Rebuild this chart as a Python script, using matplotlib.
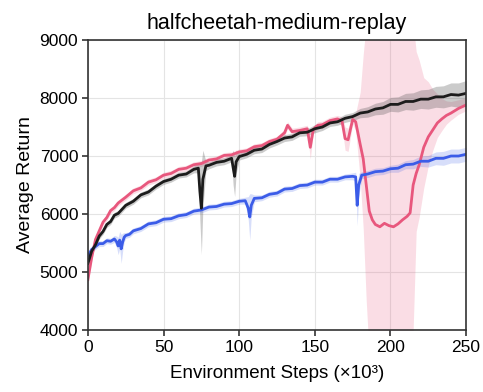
import matplotlib
matplotlib.use("Agg")
import matplotlib.pyplot as plt
import numpy as np

plt.rcParams['font.family'] = ['Liberation Sans', 'DejaVu Sans']

# ---- black curve (steps in 1e3, average return) ----
black_x = [0, 2.5, 5, 7.5, 10, 12.5, 15, 17.5, 20, 25, 30, 35, 40, 45, 50, 55, 60, 65, 70,
           73, 74, 75, 76, 78, 80, 85, 90, 95, 96, 97, 98, 100, 105, 110, 115, 120, 125,
           130, 135, 140, 145, 150, 155, 160, 165, 170, 175, 180, 185, 190, 195, 200, 205,
           210, 215, 220, 225, 230, 235, 240, 245, 250]
black_y = [5150, 5360, 5470, 5620, 5700, 5820, 5870, 5980, 6010, 6150, 6220, 6330, 6380,
           6480, 6560, 6600, 6670, 6690, 6770, 6790, 6400, 6100, 6600, 6830, 6840, 6890,
           6910, 6960, 6800, 6650, 6900, 6990, 7030, 7100, 7120, 7200, 7250, 7310, 7330,
           7400, 7410, 7470, 7500, 7570, 7590, 7650, 7680, 7740, 7760, 7810, 7830, 7890,
           7890, 7940, 7940, 7980, 7980, 8020, 8020, 8060, 8050, 8080]
black_hw = [60, 50, 50, 50, 50, 50, 50, 50, 50, 50, 50, 50, 50, 50, 50, 50, 50, 50, 60,
            80, 500, 800, 500, 80, 60, 60, 60, 60, 300, 350, 200, 60, 60, 60, 60, 60, 60,
            60, 60, 60, 60, 70, 60, 60, 60, 70, 70, 80, 90, 100, 110, 120, 130, 140, 150,
            160, 170, 180, 190, 200, 210, 220]

# ---- pink curve ----
pink_x = [0, 2.5, 5, 7.5, 10, 12.5, 15, 17.5, 20, 25, 30, 35, 40, 45, 50, 55, 60, 65, 70,
          75, 80, 85, 90, 95, 100, 105, 110, 115, 120, 125, 130, 132, 135, 140, 145, 147,
          149, 152, 155, 160, 165, 168, 170, 172, 175, 177, 180, 182, 184, 186, 188, 190,
          193, 196, 199, 202, 205, 208, 211, 213, 215, 217, 219, 222, 225, 228, 231, 234,
          237, 240, 245, 250]
pink_y = [4870, 5250, 5560, 5710, 5860, 5940, 6060, 6110, 6190, 6290, 6400, 6450, 6550,
          6590, 6670, 6700, 6770, 6790, 6850, 6870, 6930, 6950, 7010, 7020, 7070, 7090,
          7160, 7180, 7250, 7290, 7400, 7530, 7420, 7440, 7470, 7150, 7460, 7530, 7540,
          7610, 7640, 7600, 7300, 7280, 7630, 7590, 7200, 6950, 6500, 6050, 5900, 5820,
          5780, 5840, 5800, 5780, 5830, 5900, 5960, 6020, 6500, 6700, 6850, 7150, 7330,
          7450, 7570, 7640, 7700, 7740, 7820, 7880]
pink_up = [60, 50, 50, 50, 50, 50, 50, 50, 50, 50, 50, 50, 50, 50, 50, 50, 50, 50, 50,
           50, 50, 50, 50, 50, 50, 50, 50, 50, 50, 50, 60, 60, 60, 60, 60, 200, 60, 60, 60,
           60, 60, 80, 200, 200, 80, 150, 900, 1800, 2800, 3500, 3500, 3500, 3500, 3500,
           3500, 3500, 3500, 3500, 3500, 3500, 2800, 2100, 1800, 1200, 950, 700, 500, 350,
           250, 200, 150, 120]
pink_dn = [60, 50, 50, 50, 50, 50, 50, 50, 50, 50, 50, 50, 50, 50, 50, 50, 50, 50, 50,
           50, 50, 50, 50, 50, 50, 50, 50, 50, 50, 50, 60, 60, 60, 60, 60, 200, 60, 60, 60,
           60, 60, 80, 200, 200, 80, 150, 600, 1200, 2000, 2500, 2500, 2500, 2500, 2500,
           2500, 2500, 2500, 2500, 2500, 2500, 2500, 1000, 900, 700, 500, 350, 250, 200,
           150, 120, 100, 100]

# ---- blue curve ----
blue_x = [0, 2.5, 5, 7.5, 10, 12.5, 15, 17.5, 19, 20, 21, 22, 23, 24, 25, 27.5, 30, 35,
          40, 45, 50, 55, 60, 65, 70, 75, 80, 85, 90, 95, 100, 104, 106, 107, 108, 110,
          115, 120, 125, 130, 135, 140, 145, 150, 155, 160, 165, 170, 175, 177, 178, 179,
          181, 185, 190, 195, 200, 205, 210, 215, 220, 225, 230, 235, 240, 245, 250]
blue_y = [5280, 5390, 5440, 5490, 5490, 5540, 5530, 5570, 5520, 5450, 5550, 5400, 5520,
          5600, 5630, 5650, 5710, 5750, 5830, 5850, 5910, 5920, 5970, 5990, 6050, 6070,
          6120, 6130, 6170, 6180, 6220, 6230, 6100, 5950, 6150, 6270, 6280, 6340, 6360,
          6430, 6440, 6490, 6500, 6550, 6550, 6600, 6600, 6640, 6650, 6640, 6150, 6500,
          6670, 6690, 6730, 6740, 6780, 6790, 6850, 6860, 6910, 6910, 6960, 6960, 7000,
          7000, 7030]
blue_hw = [70, 50, 50, 50, 50, 50, 50, 60, 100, 150, 150, 250, 150, 80, 50, 50, 50, 50,
           50, 50, 50, 50, 50, 50, 50, 50, 50, 50, 50, 50, 50, 60, 200, 400, 200, 60, 50,
           50, 50, 50, 50, 50, 50, 50, 50, 50, 50, 50, 60, 80, 350, 200, 60, 60, 60, 60, 60,
           70, 70, 80, 90, 100, 110, 120, 120, 120, 120]

PINK = '#e8577d'
BLUE = '#3b5ce8'
BLACK = '#1c1c1c'

fig = plt.figure(figsize=(4.83, 3.92), dpi=100)
ax = fig.add_axes([0.182, 0.158, 0.783, 0.74])

bx, by, bh = np.array(black_x), np.array(black_y), np.array(black_hw)
px, py = np.array(pink_x), np.array(pink_y)
pu, pd = np.array(pink_up), np.array(pink_dn)
lx, ly, lh = np.array(blue_x), np.array(blue_y), np.array(blue_hw)

ax.fill_between(px, py - pd, py + pu, color=PINK, alpha=0.2, lw=0)
ax.fill_between(bx, by - bh, by + bh, color='#555555', alpha=0.3, lw=0)
ax.fill_between(lx, ly - lh, ly + lh, color=BLUE, alpha=0.2, lw=0)

ax.plot(px, py, color=PINK, lw=2)
ax.plot(lx, ly, color=BLUE, lw=2)
ax.plot(bx, by, color=BLACK, lw=2)

ax.set_xlim(0, 250)
ax.set_ylim(4000, 9000)
ax.set_xticks([0, 50, 100, 150, 200, 250])
ax.set_yticks([4000, 5000, 6000, 7000, 8000, 9000])
ax.grid(True, color='#e4e4e4', lw=0.8)
ax.set_axisbelow(True)
for s in ax.spines.values():
    s.set_color('#333333')
    s.set_linewidth(1.2)
ax.tick_params(labelsize=12.5, length=4, width=1.2, color='#333333', pad=3)

ax.set_title('halfcheetah-medium-replay', fontsize=15.5, pad=8)
ax.set_xlabel('Environment Steps (×10³)', fontsize=13.5, labelpad=7)
ax.set_ylabel('Average Return', fontsize=14, labelpad=4)

fig.savefig('out.png', dpi=100)
